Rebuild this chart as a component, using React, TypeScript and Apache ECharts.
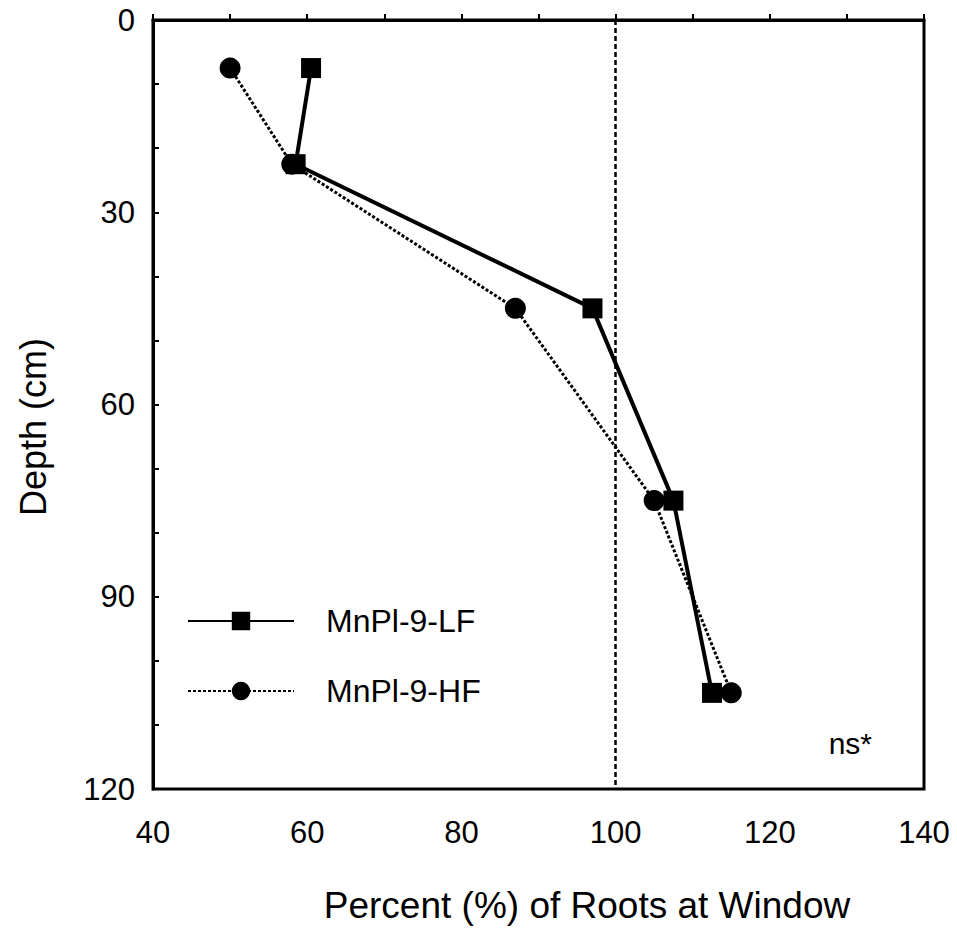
import React, { useEffect, useRef } from "react";
import * as echarts from "echarts";

const depths = [7.5, 22.5, 45, 75, 105];
const lfValues = [60.5, 58.5, 97, 107.5, 112.5];
const hfValues = [50, 58, 87, 105, 115];
const seriesNames = ["MnPl-9-LF", "MnPl-9-HF"];
const referenceX = 100;
const xTitle = "Percent (%) of Roots at Window";
const yTitle = "Depth (cm)";
const note = "ns*";

const FONT = "'Liberation Sans', Arial, Helvetica, sans-serif";

export default function App() {
  const ref = useRef<HTMLDivElement>(null);
  useEffect(() => {
    if (!ref.current) return;
    const chart = echarts.init(ref.current, null, { renderer: "svg" });
    const lf = depths.map((d, i) => [lfValues[i], d]);
    const hf = depths.map((d, i) => [hfValues[i], d]);
    const legendCommon = {
      orient: "vertical",
      left: 187,
      padding: 0,
      itemWidth: 106,
      itemHeight: 23,
      textStyle: { fontSize: 32, color: "#000", fontFamily: FONT, padding: [0, 0, 0, 27] },
    };
    chart.setOption({
      animation: false,
      backgroundColor: "#fff",
      textStyle: { fontFamily: FONT, color: "#000" },
      grid: {
        left: 153,
        right: 33,
        top: 20,
        bottom: 140,
        show: true,
        borderColor: "#000",
        borderWidth: 3,
      },
      xAxis: {
        type: "value",
        min: 40,
        max: 140,
        interval: 10,
        splitLine: { show: false },
        axisLine: { show: true, lineStyle: { color: "#000", width: 3 } },
        axisTick: { show: true, inside: true, length: 6, lineStyle: { color: "#000", width: 2 } },
        axisLabel: {
          fontSize: 31,
          color: "#000",
          fontFamily: FONT,
          margin: 28,
          formatter: (v: number) => (v % 20 === 0 ? String(v) : ""),
        },
      },
      yAxis: {
        type: "value",
        inverse: true,
        min: 0,
        max: 120,
        interval: 10,
        splitLine: { show: false },
        axisLine: { show: true, lineStyle: { color: "#000", width: 3 } },
        axisTick: { show: true, inside: true, length: 6, lineStyle: { color: "#000", width: 2 } },
        axisLabel: {
          fontSize: 31,
          color: "#000",
          fontFamily: FONT,
          margin: 18,
          formatter: (v: number) => (v % 30 === 0 ? String(v) : ""),
        },
      },
      legend: [
        { ...legendCommon, top: 605, data: [seriesNames[0]] },
        { ...legendCommon, top: 675, data: [seriesNames[1]] },
      ],
      series: [
        {
          name: seriesNames[0],
          type: "line",
          data: lf,
          symbol: "rect",
          symbolSize: 20,
          itemStyle: { color: "#000" },
          lineStyle: { color: "#000", width: 4, type: "solid" },
          z: 3,
          markLine: {
            silent: true,
            symbol: "none",
            label: { show: false },
            lineStyle: { color: "#000", width: 2.5, type: [5, 3] },
            data: [{ xAxis: referenceX }],
          },
        },
        {
          name: seriesNames[1],
          type: "line",
          data: hf,
          symbol: "circle",
          symbolSize: 21,
          itemStyle: { color: "#000" },
          lineStyle: { color: "#000", width: 3, type: [3, 2] },
          z: 2,
        },
      ],
      graphic: [
        {
          type: "text",
          x: 587,
          y: 905,
          style: {
            text: xTitle,
            fontSize: 37,
            fontFamily: FONT,
            fill: "#000",
            align: "center",
            verticalAlign: "middle",
          },
        },
        {
          type: "text",
          x: 33,
          y: 427,
          rotation: Math.PI / 2,
          style: {
            text: yTitle,
            fontSize: 36,
            fontFamily: FONT,
            fill: "#000",
            align: "center",
            verticalAlign: "middle",
          },
        },
        {
          type: "text",
          x: 872,
          y: 758,
          style: {
            text: note,
            fontSize: 30,
            fontFamily: FONT,
            fill: "#000",
            align: "right",
            verticalAlign: "bottom",
          },
        },
      ],
    });
    return () => chart.dispose();
  }, []);
  return <div ref={ref} style={{ width: 957, height: 929, position: "absolute", left: 0, top: 0 }} />;
}
